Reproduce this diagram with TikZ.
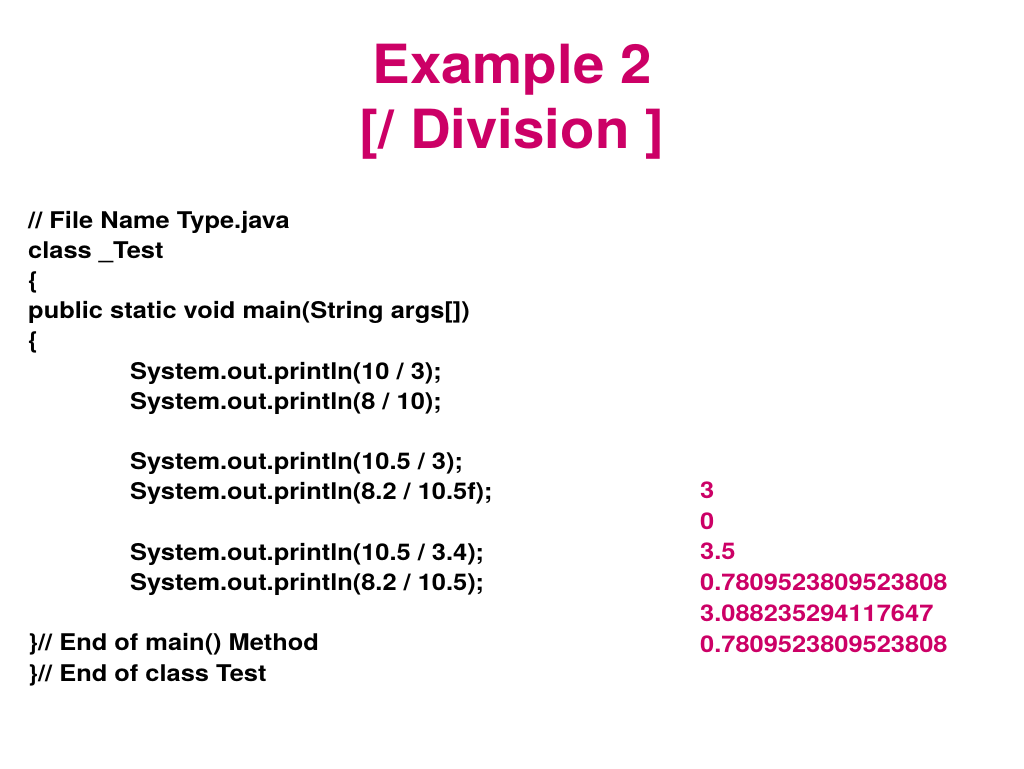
\documentclass[tikz,border=0pt]{standalone}
\usepackage{fontspec}
\setmainfont{TeX Gyre Heros}
\definecolor{titlepink}{RGB}{204,0,102}
\begin{document}
\begin{tikzpicture}[x=1pt,y=-1pt,
  title/.style={anchor=base, font=\fontsize{54}{60}\selectfont\bfseries, text=titlepink, inner sep=0pt, transform shape, xscale=1.045},
  code/.style={anchor=base west, font=\fontsize{23}{27}\selectfont\bfseries, text=black, inner sep=0pt},
  outp/.style={anchor=base west, font=\fontsize{23}{27}\selectfont\bfseries, text=titlepink, inner sep=0pt}]
\useasboundingbox[fill=white] (0,0) rectangle (1024,768);
\node[title] (t1) at (512,83) {Example 2};
\node[title] (t2) at (512,148) {[/ Division ]};
\begin{scope}[every node/.append style={transform shape, xscale=1.105}]
\node[code] (c1) at (28,228) {// File Name Type.java};
\node[code] (c2) at (28,258.2) {class \_Test};
\node[code] (c3) at (28,288.4) {\{};
\node[code] (c4) at (28,318.6) {public static void main(String args[])};
\node[code] (c5) at (28,348.8) {\{};
\node[code] (c6) at (130,379) {System.out.println(10 / 3);};
\node[code] (c7) at (130,409.2) {System.out.println(8 / 10);};
\node[code] (c8) at (130,469.6) {System.out.println(10.5 / 3);};
\node[code] (c9) at (130,499.8) {System.out.println(8.2 / 10.5f);};
\node[code] (c10) at (130,560.2) {System.out.println(10.5 / 3.4);};
\node[code] (c11) at (130,590.4) {System.out.println(8.2 / 10.5);};
\node[code] (c12) at (28,650.8) {\}// End of main() Method};
\node[code] (c13) at (28,681) {\}// End of class Test};
\node[outp] (o1) at (700,498.5) {3};
\node[outp] (o2) at (700,529.2) {0};
\node[outp] (o3) at (700,559.9) {3.5};
\node[outp] (o4) at (700,590.6) {0.7809523809523808};
\node[outp] (o5) at (700,621.3) {3.088235294117647};
\node[outp] (o6) at (700,652) {0.7809523809523808};
\end{scope}
\end{tikzpicture}
\end{document}
